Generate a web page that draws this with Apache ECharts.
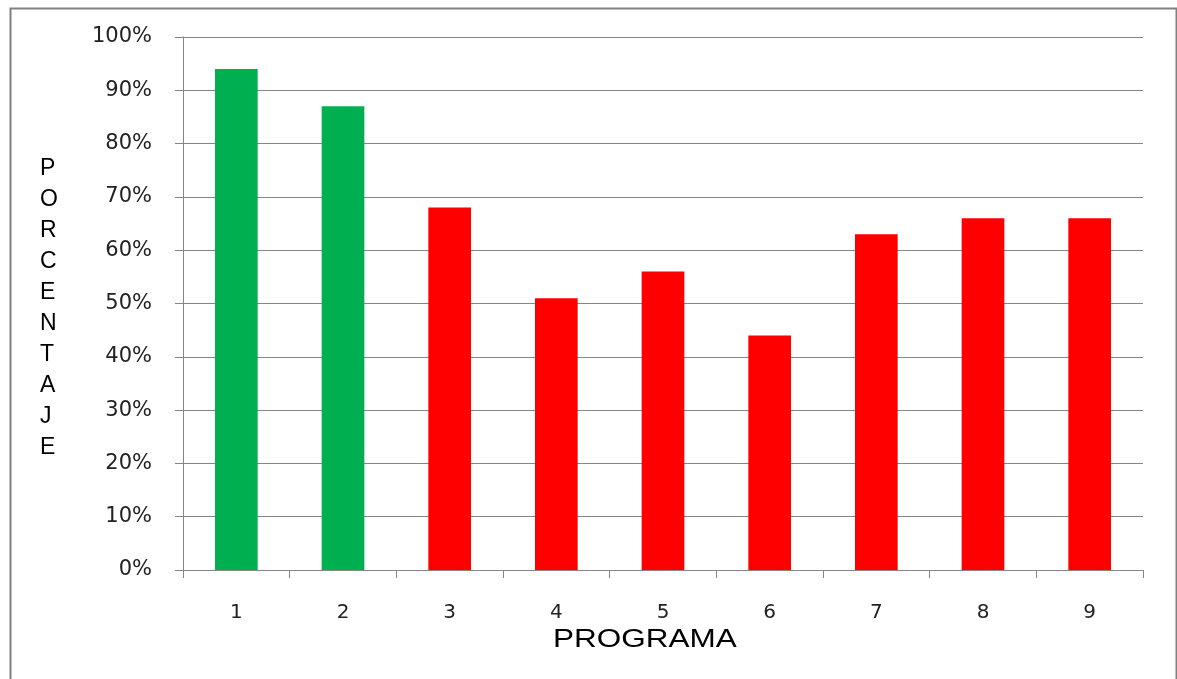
<!DOCTYPE html>
<html>
<head>
<meta charset="utf-8">
<script src="https://cdn.jsdelivr.net/npm/echarts@6/dist/echarts.min.js"></script>
<style>
  html, body { margin: 0; padding: 0; background: #fff; }
  #chart { width: 1177px; height: 679px; }
</style>
</head>
<body>
<div id="chart"></div>
<script>
// Programs and their percentages
const programas = ['1', '2', '3', '4', '5', '6', '7', '8', '9'];
const porcentajes = [94, 87, 68, 51, 56, 44, 63, 66, 66];
const colores = ['#00B050', '#00B050', '#FF0000', '#FF0000', '#FF0000', '#FF0000', '#FF0000', '#FF0000', '#FF0000'];
const tituloY = 'PORCENTAJE';
const tituloX = 'PROGRAMA';

const FONT_TICKS = '"DejaVu Sans", Verdana, sans-serif';
const FONT_TITLE = '"Liberation Sans", Arial, sans-serif';
const chart = echarts.init(document.getElementById('chart'), null, { renderer: 'canvas' });

chart.setOption({
  animation: false,
  backgroundColor: '#ffffff',
  grid: { left: 183, right: 34, top: 37, bottom: 109, containLabel: false },
  xAxis: {
    type: 'category',
    data: programas,
    axisLine: { lineStyle: { color: '#868686', width: 1 } },
    axisTick: { show: true, length: 8, alignWithLabel: false, lineStyle: { color: '#868686' } },
    axisLabel: { color: '#222', fontSize: 20, fontFamily: FONT_TICKS, margin: 33 },
    splitLine: { show: false }
  },
  yAxis: {
    type: 'value',
    min: 0, max: 100, interval: 10,
    axisLine: { show: true, lineStyle: { color: '#868686', width: 1 } },
    axisTick: { show: true, inside: false, length: 8, lineStyle: { color: '#868686' } },
    axisLabel: { color: '#222', fontSize: 21, fontFamily: FONT_TICKS, margin: 31, formatter: '{value}%' },
    splitLine: { show: true, lineStyle: { color: '#868686', width: 1 } }
  },
  series: [{
    type: 'bar',
    data: porcentajes.map((v, i) => ({ value: v, itemStyle: { color: colores[i] } })),
    barWidth: '40%'
  }],
  graphic: [
    {
      type: 'rect', left: 8, top: 6, z: 0,
      shape: { width: 1166, height: 700 },
      style: { fill: 'none', stroke: '#808080', lineWidth: 2 }
    },
    {
      type: 'text', left: 40, top: 153,
      style: {
        text: tituloY.split('').join('\n'),
        fontSize: 23, fontFamily: FONT_TITLE, fill: '#000', lineHeight: 31, align: 'center'
      }
    },
    {
      type: 'text', x: 553, y: 628, scaleX: 1.26,
      style: { text: tituloX, fontSize: 25, fontFamily: FONT_TITLE, fill: '#000' }
    }
  ]
});
</script>
</body>
</html>
